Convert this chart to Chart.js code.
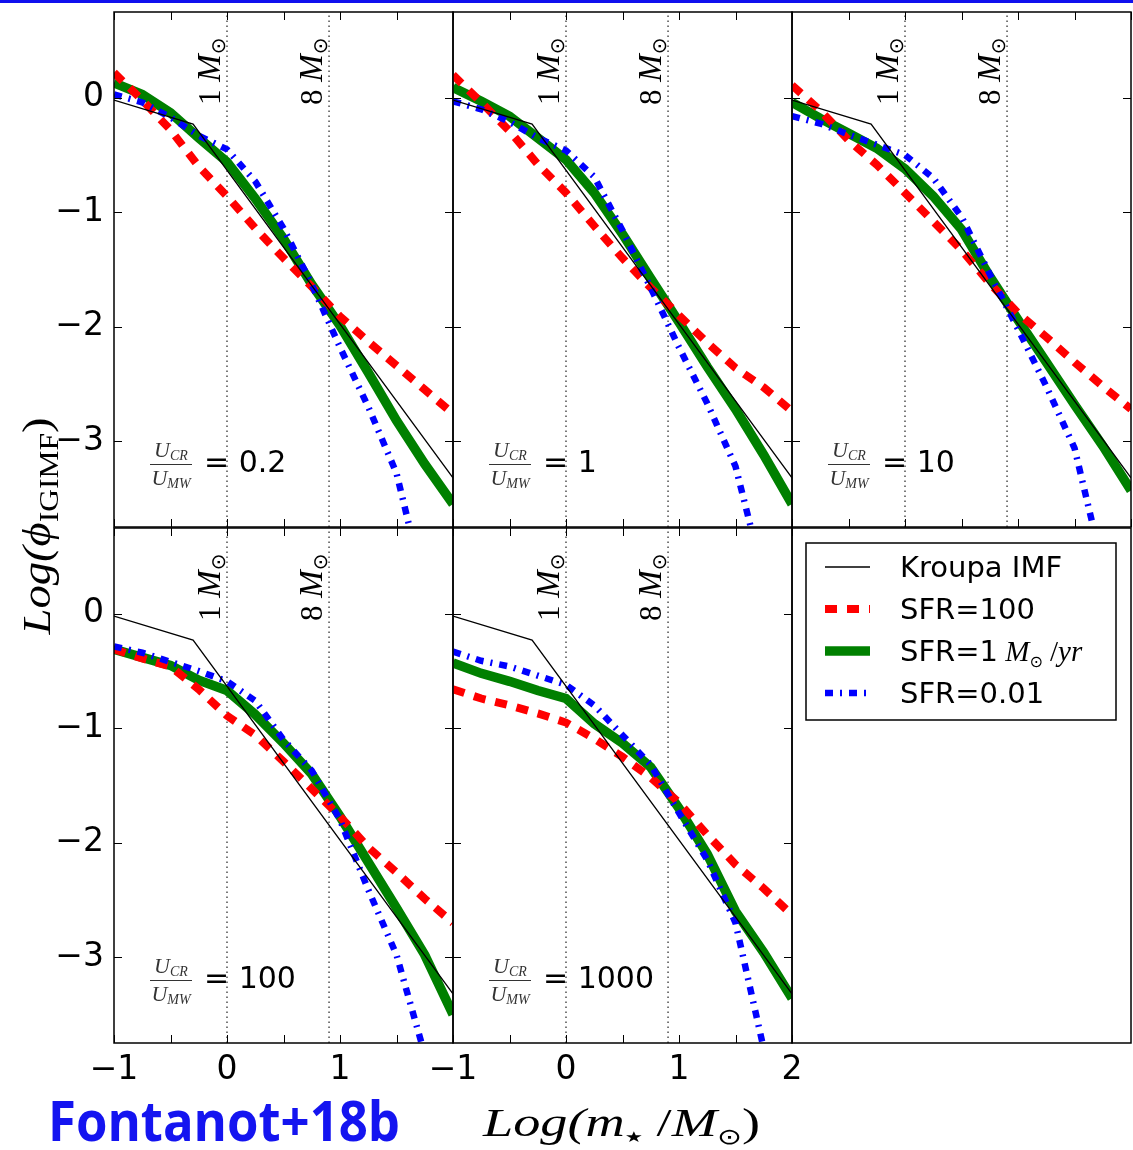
<!DOCTYPE html>
<html>
<head>
<meta charset="utf-8">
<script src="https://cdn.jsdelivr.net/npm/chart.js@4.4.0/dist/chart.umd.min.js"></script>
<style>
  body { margin: 0; background: #fff; }
  #wrap { position: relative; width: 1133px; height: 1150px; background: #fff; overflow: hidden; }
  #wrap canvas { position: absolute; left: 0; top: 0; }
  #topbar { position: absolute; left: 0; top: 0; width: 1133px; height: 3px; background: #1010ee; }
</style>
</head>
<body>
<div id="wrap">
  <div id="topbar"></div>
  <canvas id="p0" width="1133" height="1150"></canvas>
  <canvas id="p1" width="1133" height="1150"></canvas>
  <canvas id="p2" width="1133" height="1150"></canvas>
  <canvas id="p3" width="1133" height="1150"></canvas>
  <canvas id="p4" width="1133" height="1150"></canvas>
  <canvas id="p5" width="1133" height="1150"></canvas>
</div>
<script>
// ---- data ----
const logM = [-1, -0.75, -0.5, -0.25, 0, 0.25, 0.5, 0.75, 1, 1.25, 1.5, 1.75, 2];

const kroupaX = [-1, -0.3, 2];
const kroupaY = [-0.02, -0.23, -3.32];

// U_CR/U_MW = 0.2
const red02   = [0.22, -0.02, -0.28, -0.60, -0.86, -1.14, -1.40, -1.65, -1.91, -2.13, -2.34, -2.55, -2.76];
const green02 = [0.13, 0.03, -0.13, -0.35, -0.56, -0.88, -1.23, -1.63, -1.99, -2.40, -2.82, -3.20, -3.55];
const blue02  = [0.03, -0.04, -0.17, -0.33, -0.45, -0.73, -1.14, -1.63, -2.18, -2.70, -3.28, -4.30, null];
// = 1
const red1    = [0.20, -0.04, -0.29, -0.58, -0.83, -1.12, -1.40, -1.66, -1.90, -2.14, -2.36, -2.53, -2.74];
const green1  = [0.09, -0.03, -0.16, -0.35, -0.54, -0.83, -1.19, -1.58, -1.96, -2.35, -2.72, -3.12, -3.55];
const blue1   = [-0.03, -0.10, -0.21, -0.35, -0.46, -0.69, -1.16, -1.66, -2.18, -2.67, -3.22, -4.20, null];
// = 10
const red10   = [0.11, -0.11, -0.37, -0.585, -0.83, -1.08, -1.33, -1.62, -1.88, -2.09, -2.31, -2.52, -2.72];
const green10 = [-0.04, -0.18, -0.31, -0.44, -0.62, -0.86, -1.15, -1.56, -1.94, -2.31, -2.68, -3.04, -3.43];
const blue10  = [-0.16, -0.225, -0.32, -0.41, -0.50, -0.70, -1.04, -1.54, -2.02, -2.52, -3.06, -4.10, null];
// = 100
const red100   = [-0.31, -0.39, -0.46, -0.66, -0.89, -1.06, -1.29, -1.53, -1.77, -2.04, -2.26, -2.49, -2.70];
const green100 = [-0.31, -0.38, -0.45, -0.58, -0.67, -0.88, -1.13, -1.40, -1.77, -2.17, -2.57, -2.98, -3.50];
const blue100  = [-0.285, -0.34, -0.42, -0.50, -0.59, -0.76, -1.10, -1.37, -1.80, -2.41, -2.98, -3.85, null];
// = 1000
const red1000   = [-0.66, -0.74, -0.80, -0.87, -0.95, -1.09, -1.25, -1.43, -1.65, -1.93, -2.19, -2.40, -2.63];
const green1000 = [-0.43, -0.52, -0.59, -0.67, -0.74, -0.96, -1.13, -1.34, -1.70, -2.10, -2.60, -2.96, -3.36];
const blue1000  = [-0.33, -0.41, -0.46, -0.54, -0.62, -0.80, -1.06, -1.32, -1.74, -2.15, -2.70, -3.80, null];

const ratioLabels = ['0.2', '1', '10', '100', '1000'];
const massLines = [0, 0.903];          // log10(1), log10(8)
const massLabels = ['1', '8'];
const xTickValues = [-1, 0, 1, 2];
const xTickLabels = ['\u22121', '0', '1', '2'];
const yTickValues = [-3, -2, -1, 0];
const yTickLabels = ['\u22123', '\u22122', '\u22121', '0'];
const seriesNames = ['Kroupa IMF', 'SFR=100', 'SFR=1', 'SFR=0.01'];

// ---- layout / style ----
const W = 1133, H = 1150;
const colX = [114, 453, 792];
const rowY = [12, 528];
const PW = 339, PH = 515;
const SERIF = '"Liberation Serif", "DejaVu Serif", serif';
const SANS = '"DejaVu Sans", sans-serif';

const STY = {
  kroupa: { borderColor: '#000000', borderWidth: 1.3 },
  red:    { borderColor: '#ff0000', borderWidth: 8, borderDash: [12, 10] },
  green:  { borderColor: '#008000', borderWidth: 9.5 },
  blue:   { borderColor: '#0000ff', borderWidth: 6.5, borderDash: [8, 7, 2, 7] }
};

function pts(xs, ys) {
  return xs.map((x, i) => ({ x: x, y: ys[i] })).filter(p => p.y !== null);
}

function runsWidth(ctx, runs) {
  let w = 0;
  runs.forEach(r => { ctx.font = r[1]; w += ctx.measureText(r[0]).width; });
  return w;
}
function drawRuns(ctx, runs, x, y) {
  let cx = x;
  runs.forEach(r => {
    ctx.font = r[1];
    ctx.fillText(r[0], cx, y + (r[2] || 0));
    cx += ctx.measureText(r[0]).width;
  });
}
function noPad(s) {
  s.paddingTop = 0; s.paddingBottom = 0; s.paddingLeft = 0; s.paddingRight = 0;
}

// frame, inward ticks, mass labels and U_CR/U_MW note
const decor = {
  id: 'decor',
  afterDatasetsDraw(chart, args, o) {
    const { ctx, chartArea: a, scales } = chart;
    ctx.save();
    ctx.strokeStyle = '#000';
    ctx.fillStyle = '#000';
    ctx.setLineDash([]);
    if (o.ticks) {
      const x = scales.x, y = scales.y;
      ctx.lineWidth = 1;
      ctx.beginPath();
      x.ticks.forEach(t => {
        const px = Math.round(x.getPixelForValue(t.value)) + 0.5;
        ctx.moveTo(px, a.top); ctx.lineTo(px, a.top + 8);
        ctx.moveTo(px, a.bottom); ctx.lineTo(px, a.bottom - 8);
      });
      y.ticks.forEach(t => {
        const py = Math.round(y.getPixelForValue(t.value)) + 0.5;
        ctx.moveTo(a.left, py); ctx.lineTo(a.left + 8, py);
        ctx.moveTo(a.right, py); ctx.lineTo(a.right - 8, py);
      });
      ctx.stroke();

      massLines.forEach((v, i) => {
        const px = x.getPixelForValue(v);
        ctx.save();
        ctx.translate(px - 7, a.top + 93);
        ctx.rotate(-Math.PI / 2);
        drawRuns(ctx, [[massLabels[i] + ' ', '31px ' + SERIF], ['M', 'italic 33px ' + SERIF], ['\u2299', '20px ' + SANS, 5]], 0, 0);
        ctx.restore();
      });

      // ratio note
      const fx = a.left + 36, fw = 42, barY = a.bottom - 63;
      const num = [['U', 'italic 22px ' + SERIF], ['CR', 'italic 14px ' + SERIF, 3]];
      const den = [['U', 'italic 22px ' + SERIF], ['MW', 'italic 14px ' + SERIF, 3]];
      ctx.fillStyle = '#333';
      drawRuns(ctx, num, fx + (fw - runsWidth(ctx, num)) / 2, barY - 7);
      drawRuns(ctx, den, fx + (fw - runsWidth(ctx, den)) / 2, barY + 21);
      ctx.lineWidth = 1;
      ctx.strokeStyle = '#333';
      ctx.beginPath(); ctx.moveTo(fx, barY + 0.5); ctx.lineTo(fx + fw, barY + 0.5); ctx.stroke();
      ctx.fillStyle = '#000';
      ctx.font = '30px ' + SANS;
      ctx.fillText('= ' + o.ratio, a.left + 90, a.bottom - 55);
    }
    ctx.strokeStyle = '#000';
    ctx.lineWidth = 1.5;
    ctx.strokeRect(a.left, a.top, a.width, a.height);
    ctx.restore();
  }
};

function makePanel(id, col, row, p) {
  const yw = p.yLabels ? 100 : 0;
  const xh = p.xLabels ? 60 : 0;
  const L = colX[col], T = rowY[row];
  new Chart(document.getElementById(id), {
    type: 'line',
    data: {
      datasets: [
        { label: '1', data: [{ x: massLines[0], y: -3.75 }, { x: massLines[0], y: 0.75 }], borderColor: '#222', borderWidth: 1.2, borderDash: [1.5, 3.5], order: 9 },
        { label: '8', data: [{ x: massLines[1], y: -3.75 }, { x: massLines[1], y: 0.75 }], borderColor: '#222', borderWidth: 1.2, borderDash: [1.5, 3.5], order: 9 },
        Object.assign({ label: seriesNames[2], data: pts(logM, p.green), order: 4 }, STY.green),
        Object.assign({ label: seriesNames[1], data: pts(logM, p.red), order: 3 }, STY.red),
        Object.assign({ label: seriesNames[3], data: pts(logM, p.blue), order: 2 }, STY.blue),
        Object.assign({ label: seriesNames[0], data: pts(kroupaX, kroupaY), order: 1 }, STY.kroupa)
      ]
    },
    options: {
      responsive: false,
      animation: false,
      devicePixelRatio: 1,
      layout: { padding: { left: L - yw, top: T, right: W - L - PW, bottom: H - T - PH - xh } },
      elements: { point: { radius: 0 }, line: { tension: 0, borderCapStyle: 'butt', fill: false } },
      datasets: { line: { clip: 0 } },
      plugins: { legend: { display: false }, tooltip: { enabled: false }, decor: { ticks: true, ratio: p.ratio } },
      scales: {
        x: {
          type: 'linear', min: -1, max: 2,
          grid: { display: false, drawTicks: false }, border: { display: false },
          ticks: {
            display: p.xLabels, stepSize: 0.5, autoSkip: false, maxRotation: 0, includeBounds: false,
            padding: 8, color: '#000', font: { family: 'DejaVu Sans', size: 33 },
            callback: v => {
              const k = xTickValues.indexOf(v);
              if (k < 0 || v > p.maxX) return '';
              return xTickLabels[k];
            }
          },
          afterFit: s => { s.height = xh; noPad(s); }
        },
        y: {
          type: 'linear', min: -3.75, max: 0.75,
          grid: { display: false, drawTicks: false }, border: { display: false },
          ticks: {
            display: p.yLabels, stepSize: 1, includeBounds: false, autoSkip: false,
            padding: 10, color: '#000', font: { family: 'DejaVu Sans', size: 33 },
            callback: v => {
              const k = yTickValues.indexOf(v);
              return k < 0 ? '' : yTickLabels[k];
            }
          },
          afterFit: s => { s.width = yw; noPad(s); }
        }
      }
    },
    plugins: [decor]
  });
}

makePanel('p0', 0, 0, { red: red02, green: green02, blue: blue02, ratio: ratioLabels[0], yLabels: true, xLabels: false, maxX: 2 });
makePanel('p1', 1, 0, { red: red1, green: green1, blue: blue1, ratio: ratioLabels[1], yLabels: false, xLabels: false, maxX: 2 });
makePanel('p2', 2, 0, { red: red10, green: green10, blue: blue10, ratio: ratioLabels[2], yLabels: false, xLabels: false, maxX: 2 });
makePanel('p3', 0, 1, { red: red100, green: green100, blue: blue100, ratio: ratioLabels[3], yLabels: true, xLabels: true, maxX: 1 });
makePanel('p4', 1, 1, { red: red1000, green: green1000, blue: blue1000, ratio: ratioLabels[4], yLabels: false, xLabels: true, maxX: 2 });

// legend panel + figure texts
const legendBox = {
  id: 'legendBox',
  afterDraw(chart) {
    const { ctx, chartArea: a } = chart;
    ctx.save();
    ctx.strokeStyle = '#000';
    ctx.lineWidth = 1.5;
    ctx.strokeRect(a.left, a.top, a.width, a.height);
    const bx = a.left + 14, by = a.top + 15, bw = 310, bh = 177;
    ctx.strokeRect(bx, by, bw, bh);
    chart.data.datasets.forEach((ds, i) => {
      const cy = by + 24 + i * 42;
      ctx.save();
      ctx.strokeStyle = ds.borderColor;
      ctx.lineWidth = ds.borderWidth;
      ctx.lineCap = 'butt';
      ctx.setLineDash(ds.borderDash || []);
      ctx.beginPath(); ctx.moveTo(bx + 19, cy); ctx.lineTo(bx + 64, cy); ctx.stroke();
      ctx.restore();
      ctx.fillStyle = '#000';
      const runs = [[ds.label, '29px ' + SANS]];
      if (i === 2) runs.push([' M', 'italic 29px ' + SERIF], ['\u2299', '16px ' + SANS, 6], [' /', '29px ' + SERIF], ['yr', 'italic 29px ' + SERIF]);
      drawRuns(ctx, runs, bx + 94, cy + 10);
    });

    // y title
    ctx.fillStyle = '#000';
    const yt = [['Log(', 'italic 40px ' + SERIF], ['\u03d5', 'italic 40px ' + SERIF], ['IGIMF', '27px ' + SERIF, 8], [')', '40px ' + SERIF]];
    let w = runsWidth(ctx, yt);
    ctx.save();
    ctx.translate(50, 526 + 217 / 2);
    ctx.rotate(-Math.PI / 2);
    ctx.scale(217 / w, 1);
    drawRuns(ctx, yt, 0, 0);
    ctx.restore();

    // x title
    const xt = [['Log(', 'italic 40px ' + SERIF], ['m', 'italic 40px ' + SERIF], ['\u2605', '15px ' + SANS, 6], [' /', '40px ' + SERIF],
                ['M', 'italic 40px ' + SERIF], ['\u2299', '22px ' + SANS, 8], [')', '40px ' + SERIF]];
    w = runsWidth(ctx, xt);
    ctx.save();
    ctx.translate(483, 1136);
    ctx.scale(277 / w, 1);
    drawRuns(ctx, xt, 0, 0);
    ctx.restore();

    // tag
    ctx.fillStyle = '#1414f0';
    ctx.font = 'bold 56px "Open Sans", "DejaVu Sans", sans-serif';
    ctx.fillText('Fontanot+18b', 48, 1141, 352);
    ctx.restore();
  }
};

new Chart(document.getElementById('p5'), {
  type: 'line',
  data: {
    datasets: [
      Object.assign({ label: seriesNames[0], data: [] }, STY.kroupa),
      Object.assign({ label: seriesNames[1], data: [] }, STY.red),
      Object.assign({ label: seriesNames[2], data: [] }, STY.green),
      Object.assign({ label: seriesNames[3], data: [] }, STY.blue)
    ]
  },
  options: {
    responsive: false,
    animation: false,
    devicePixelRatio: 1,
    layout: { padding: { left: colX[2], top: rowY[1], right: W - colX[2] - PW, bottom: H - rowY[1] - PH } },
    plugins: { legend: { display: false }, tooltip: { enabled: false } },
    scales: {
      x: { type: 'linear', display: false, min: -1, max: 2 },
      y: { type: 'linear', display: false, min: -3.75, max: 0.75 }
    }
  },
  plugins: [legendBox]
});
</script>
</body>
</html>
